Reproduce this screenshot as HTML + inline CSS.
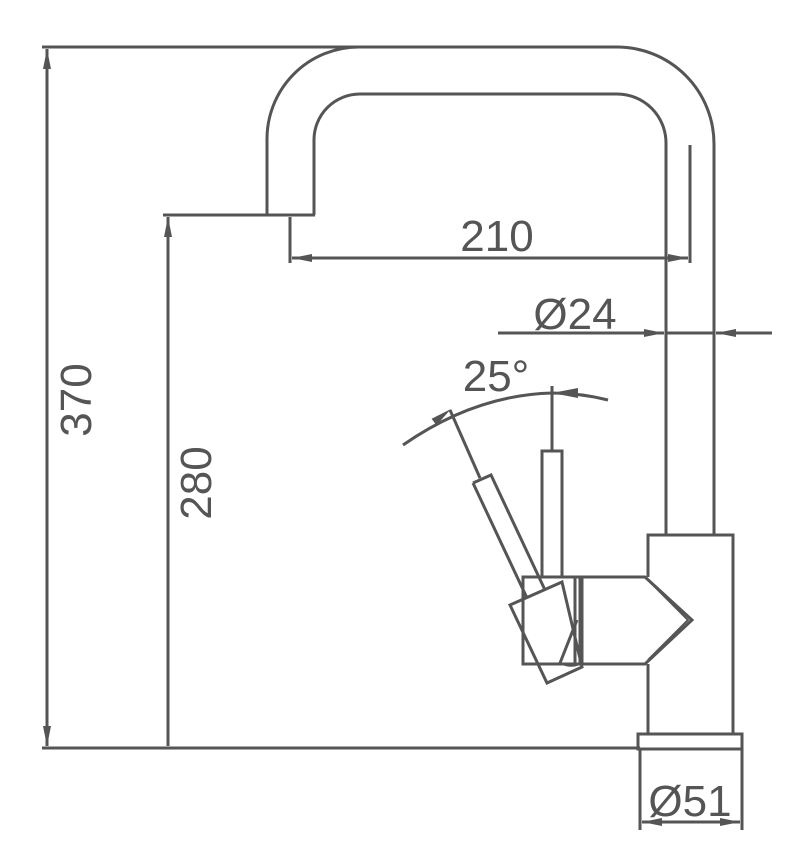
<!DOCTYPE html>
<html><head><style>body{margin:0;background:#fff}svg{display:block}</style></head><body>
<svg width="805" height="848" viewBox="0 0 805 848" xmlns="http://www.w3.org/2000/svg">
<defs>
<marker id="a" viewBox="0 0 20 8" refX="20" refY="4" markerWidth="20" markerHeight="8" markerUnits="userSpaceOnUse" orient="auto-start-reverse"><path d="M0,0 L20,4 L0,8 Z" fill="#555"/></marker>
</defs>
<g fill="none" stroke="#555" stroke-width="3">
<line x1="42" y1="47" x2="360" y2="47"/>
<line x1="42" y1="748" x2="640" y2="748"/>
<line x1="47" y1="49" x2="47" y2="746" marker-start="url(#a)" marker-end="url(#a)"/>
<line x1="163" y1="215" x2="315" y2="215"/>
<line x1="168" y1="217" x2="168" y2="746" marker-start="url(#a)"/>
<path d="M267,215 V140 A92,92 0 0 1 359,47 H617 A97,97 0 0 1 714,144 V535"/>
<path d="M314,215 V140 A46,46 0 0 1 360,94 H617 A49,49 0 0 1 666,143 V535"/>
<line x1="290" y1="217" x2="290" y2="263"/>
<line x1="690" y1="145" x2="690" y2="263"/>
<line x1="292" y1="258" x2="688" y2="258" marker-start="url(#a)" marker-end="url(#a)"/>
<line x1="498" y1="333" x2="664" y2="333" marker-end="url(#a)"/>
<line x1="772" y1="333" x2="716" y2="333" marker-end="url(#a)"/>
<line x1="666" y1="333" x2="714" y2="333"/>
<path d="M648,577 V535 H733 V734"/>
<path d="M648,664 V734"/>
<rect x="638" y="734" width="104" height="15"/>
<line x1="640" y1="749" x2="640" y2="830"/>
<line x1="742" y1="749" x2="742" y2="830"/>
<line x1="642" y1="822" x2="740" y2="822" marker-start="url(#a)" marker-end="url(#a)"/>
<rect x="523" y="577" width="57" height="87"/>
<line x1="575" y1="577" x2="575" y2="664"/>
<path d="M582,577 H645 L692,620 L645,664 H582 Z"/>
<path d="M648,580 L688,620 L648,660" stroke-width="2"/>
<rect x="542" y="451" width="20" height="126"/>
<line x1="552" y1="386" x2="552" y2="451"/>
<line x1="450" y1="410" x2="480" y2="478"/>
<path d="M473,483 L491,475 L545,590 M473,483 L527,598"/>
<path d="M510,605 L562,582 L582,667 L547,683 Z"/>
<path d="M560,663 L577,620"/>
<path d="M560,663 Q570,668 580,664" stroke-width="2"/>
<path d="M403,445 Q475,395 552,393 Q580,393 608,400"/>
</g>
<path d="M451,409 L436.4,425.2 L431.6,418.8 Z" fill="#555"/>
<path d="M552,393 L578,388 L578,398 Z" fill="#555"/>
<g fill="#555" font-family="'Liberation Sans', sans-serif" font-size="44">
<text x="497" y="251" text-anchor="middle">210</text>
<text x="575" y="329" text-anchor="middle">Ø24</text>
<text x="496" y="391" text-anchor="middle">25°</text>
<text x="690" y="816" text-anchor="middle">Ø51</text>
<text transform="translate(91,400) rotate(-90)" text-anchor="middle">370</text>
<text transform="translate(211,483) rotate(-90)" text-anchor="middle">280</text>
</g>
</svg>
</body></html>
